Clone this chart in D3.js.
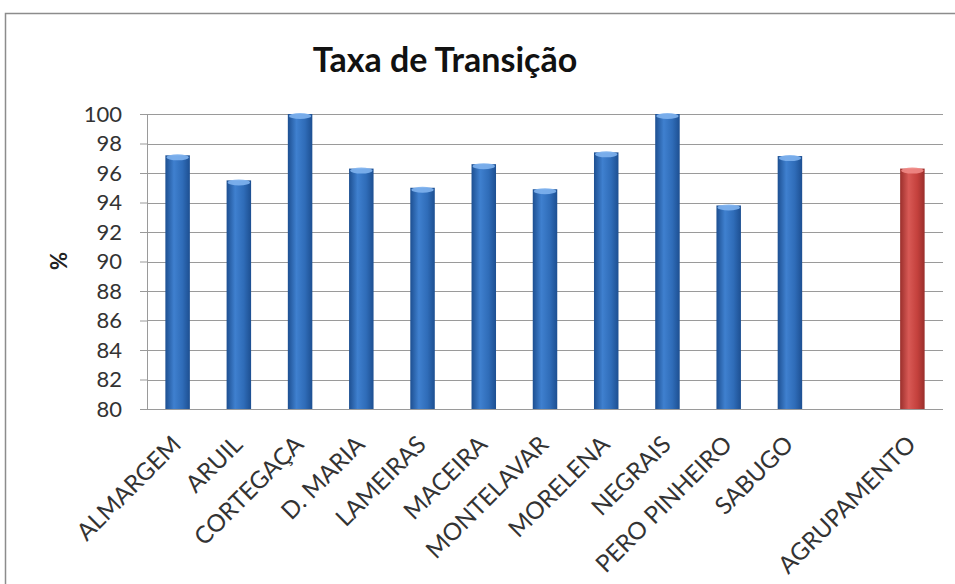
<!DOCTYPE html>
<html>
<head>
<meta charset="utf-8">
<script src="https://cdn.jsdelivr.net/npm/d3@7"></script>
<style>
body { margin: 0; background: #fff; }
svg { display: block; }
</style>
</head>
<body>
<svg width="955" height="584"></svg>
<script>
// Chart data
var categories = ["ALMARGEM", "ARUIL", "CORTEGAÇA", "D. MARIA", "LAMEIRAS", "MACEIRA",
	"MONTELAVAR", "MORELENA", "NEGRAIS", "PERO PINHEIRO", "SABUGO", "", "AGRUPAMENTO"];
var values = [97.2, 95.5, 100, 96.3, 95.0, 96.6, 94.9, 97.4, 100, 93.8, 97.15, null, 96.3];
var yTicks = [80, 82, 84, 86, 88, 90, 92, 94, 96, 98, 100];

var svg = d3.select("svg"),
	width = +svg.attr("width"),
	height = +svg.attr("height");

var margin = { left: 147, right: 12, top: 114, bottom: 175 };

var x = d3.scaleBand()
	.domain(d3.range(categories.length))
	.range([margin.left, width - margin.right])
	.paddingInner(0.6)
	.paddingOuter(0.3);

var y = d3.scaleLinear()
	.domain([80, 100])
	.range([height - margin.bottom, margin.top]);

var font = "Lato, 'Open Sans', sans-serif";

// Gradients for the cylinder look
var defs = svg.append("defs");
function cylinder(id, dark, mid, light) {
	var g = defs.append("linearGradient").attr("id", id)
		.attr("x1", "0%").attr("x2", "100%").attr("y1", "0%").attr("y2", "0%");
	g.append("stop").attr("offset", "0%").attr("stop-color", dark);
	g.append("stop").attr("offset", "35%").attr("stop-color", light);
	g.append("stop").attr("offset", "70%").attr("stop-color", mid);
	g.append("stop").attr("offset", "100%").attr("stop-color", dark);
}
cylinder("blueGrad", "#1d4f91", "#2f6cb8", "#3f80cf");
cylinder("redGrad", "#9a2f2c", "#c4413d", "#d85955");

// Chart frame
svg.append("path")
	.attr("d", "M5.5," + height + "V13.5H" + width)
	.attr("fill", "none")
	.attr("stroke", "#8c8c8c")
	.attr("stroke-width", 1.5);

// Title
svg.append("text")
	.attr("x", 445)
	.attr("y", 72)
	.attr("text-anchor", "middle")
	.style("font-family", font)
	.style("font-weight", "bold")
	.style("font-size", "34px")
	.attr("fill", "#111")
	.text("Taxa de Transição");

// Gridlines
svg.append("g")
	.selectAll("line")
	.data(yTicks)
	.enter().append("line")
	.attr("x1", margin.left)
	.attr("x2", width - margin.right)
	.attr("y1", (d) => Math.round(y(d)) + 0.5)
	.attr("y2", (d) => Math.round(y(d)) + 0.5)
	.attr("stroke", "#9a9a9a")
	.attr("stroke-width", 1);

// Y axis
var yAxis = svg.append("g")
	.attr("transform", "translate(" + margin.left + ",0)")
	.call(d3.axisLeft(y).tickValues(yTicks).tickSize(7).tickPadding(18));
yAxis.select(".domain").attr("stroke", "#9a9a9a");
yAxis.selectAll(".tick line").attr("stroke", "#9a9a9a");
yAxis.selectAll("text")
	.style("font-family", font)
	.style("font-size", "22px")
	.attr("fill", "#333");

// Y label
svg.append("text")
	.attr("transform", "translate(67,261) rotate(-90)")
	.attr("text-anchor", "middle")
	.style("font-family", font)
	.style("font-weight", "bold")
	.style("font-size", "22px")
	.attr("fill", "#222")
	.text("%");

// Bars
var bars = svg.append("g")
	.selectAll("g")
	.data(values.map((v, i) => ({ i: i, v: v })).filter((d) => d.v != null))
	.enter().append("g");

bars.append("rect")
	.attr("x", (d) => x(d.i))
	.attr("y", (d) => y(d.v))
	.attr("width", x.bandwidth())
	.attr("height", (d) => y(80) - y(d.v))
	.attr("fill", (d) => d.i == categories.length - 1 ? "url(#redGrad)" : "url(#blueGrad)");

// light cap on top of each bar
bars.append("ellipse")
	.attr("cx", (d) => x(d.i) + x.bandwidth() / 2)
	.attr("cy", (d) => y(d.v) + 2)
	.attr("rx", x.bandwidth() / 2 - 1)
	.attr("ry", 3)
	.attr("fill", (d) => d.i == categories.length - 1 ? "#f08a86" : "#7fb2ee")
	.attr("opacity", 0.9);

// X axis line
svg.append("line")
	.attr("x1", margin.left)
	.attr("x2", width - margin.right)
	.attr("y1", Math.round(y(80)) + 0.5)
	.attr("y2", Math.round(y(80)) + 0.5)
	.attr("stroke", "#9a9a9a");

// Category labels
svg.append("g")
	.selectAll("text")
	.data(categories)
	.enter().append("text")
	.attr("transform", (d, i) => "translate(" + (x(i) + x.bandwidth() / 2 + 5) + "," + (y(80) + 37) + ") rotate(-45)")
	.attr("text-anchor", "end")
	.style("font-family", font)
	.style("font-size", "24px")
	.attr("fill", "#333")
	.text((d) => d);
</script>
</body>
</html>
